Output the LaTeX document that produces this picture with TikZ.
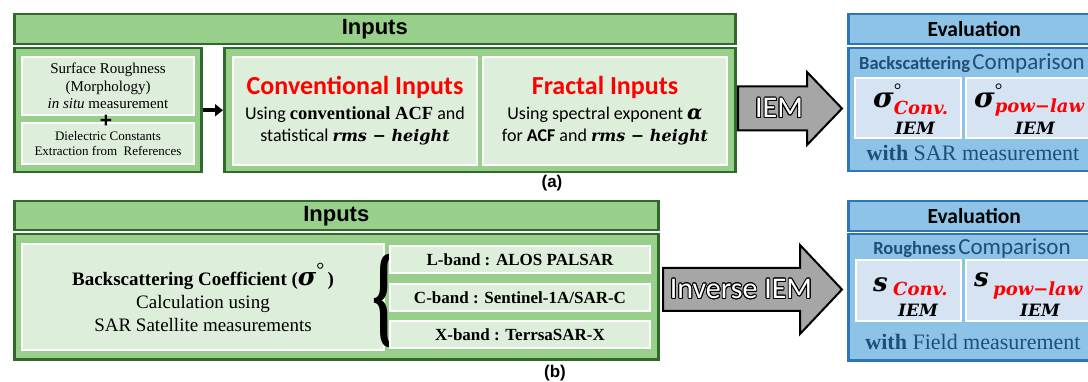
\documentclass[tikz,border=0pt]{standalone}
\usepackage{fontspec}
\setmainfont{Liberation Serif}
\newfontfamily\calibri{Carlito}
\newfontfamily\arial{Liberation Sans}
\newfontfamily\cambria{DejaVu Serif}
\usepackage{contour}
\usetikzlibrary{calc, arrows.meta}

\definecolor{grnfill}{HTML}{98D08B}
\definecolor{grnline}{HTML}{2F6A2C}
\definecolor{grnpale}{HTML}{DDEEDA}
\definecolor{blufill}{HTML}{8DC3E6}
\definecolor{bluline}{HTML}{2E75B6}
\definecolor{blupale}{HTML}{D6E3F2}
\definecolor{blutext}{HTML}{1F4E79}
\definecolor{arrgray}{HTML}{A6A6A6}

\contourlength{0.9pt}

% panel: style, name, x1, y1, x2, y2 (pixels, y down), text
\newcommand{\panel}[7]{\node[#1, minimum width={(#5-#3)*1pt}, minimum height={(#6-#4)*1pt}] (#2) at (#3,#4) {#7};}
% bold italic "math" look
\newcommand{\bi}[2]{{\cambria\bfseries\itshape\fontsize{#1}{#1}\selectfont #2}}
% sigma with degree mark and a lowered subscript
\newcommand{\sigsub}[2]{\bi{28}{σ}\rlap{\raisebox{11pt}{\fontsize{19}{19}\selectfont°}}\raisebox{-#1pt}{\textcolor{red}{\bi{18}{#2}}}}

\begin{document}
\begin{tikzpicture}[x=1pt, y=-1pt,
    box/.style={anchor=north west, inner sep=0pt, align=center},
    grnhead/.style={box, draw=grnline, fill=grnfill, line width=2.5pt, font=\arial\bfseries\fontsize{22}{22}\selectfont},
    grnpane/.style={box, draw=white, fill=grnpale, line width=2pt},
    bluhead/.style={box, draw=bluline, fill=blufill, line width=2.5pt, font=\calibri\bfseries\fontsize{21.5}{21.5}\selectfont},
    blupane/.style={box, draw=white, fill=blupale, line width=2pt},
    bigarrow/.style={draw=black, fill=arrgray, line width=2pt, line join=miter},
    arrlabel/.style={font=\calibri\fontsize{30}{30}\selectfont, text=white},
    bandtext/.style={font=\bfseries\fontsize{17}{17}\selectfont},
    lbl/.style={inner sep=0pt},
    symb/.style={inner sep=0pt, anchor=base west},
    caption/.style={font=\arial\bfseries\fontsize{17}{17}\selectfont}]
    \useasboundingbox (0,0) rectangle (1088,382);
    \clip (0,0) rectangle (1088,382);

    % ---------- (a) ----------
    \panel{grnhead}{inA}{13}{13}{734}{43}{Inputs}
    \panel{grnhead}{srcbox}{13}{47}{200}{171}{}
    \panel{grnpane, font=\fontsize{15}{17.5}\selectfont}{rough}{21}{56}{193}{114}{Surface Roughness\\(Morphology)\\\textit{in situ} measurement}
    \panel{grnpane, font=\fontsize{13}{14.5}\selectfont}{diel}{21}{122}{193}{163}{Dielectric Constants\\Extraction from~~References}
    \node[lbl, font=\arial\bfseries\fontsize{21}{21}\selectfont] (plus) at (106,121) {+};

    \panel{grnhead}{inbox}{223}{47}{734}{171}{}
    \panel{grnpane, font=\calibri\fontsize{18}{22}\selectfont}{conv}{232}{56}{476}{164}{%
        {\bfseries\fontsize{26}{30}\selectfont\textcolor{red}{Conventional Inputs}}\\[3pt]
        Using {\rmfamily\bfseries\fontsize{18.5}{18}\selectfont conventional ACF} and\\
        statistical \bi{16}{rms − height}}
    \panel{grnpane, font=\calibri\fontsize{18}{22}\selectfont}{frac}{482}{56}{726}{164}{%
        {\bfseries\fontsize{26}{30}\selectfont\textcolor{red}{Fractal Inputs}}\\[3pt]
        Using spectral exponent \bi{20}{α}\\
        for \textbf{ACF} and \bi{16}{rms − height}}
    \draw[line width=3.5pt, -{Triangle[length=8pt,width=12pt]}] (srcbox.east) -- (inbox.west);
    \node[caption] (capA) at (552,183) {(a)};

    % IEM arrow
    \draw[bigarrow] (738,86.5) -- (807,86.5) -- (807,72) -- (842,108.5) -- (807,145) -- (807,130.5) -- (738,130.5) -- cycle;
    \node[arrlabel] (iemA) at (779,108.5) {\contour{black}{IEM}};

    % Evaluation (a)
    \panel{bluhead}{evA}{847}{13}{1099}{43}{Evaluation}
    \panel{bluhead}{evAbody}{847}{47}{1099}{170}{}
    \node[lbl, font=\calibri, text=blutext] (cmpA) at (972,63) {{\bfseries\fontsize{18.5}{18}\selectfont Backscattering} {\fontsize{23}{23}\selectfont Comparison}};
    \panel{blupane}{sgbox1}{854}{77}{960}{137}{}
    \panel{blupane}{sgbox2}{965}{77}{1092}{137}{}
    \node[symb] (sg1) at (873,108) {\sigsub{7}{Conv.}};
    \node[lbl] (sg1i) at (915,128) {\bi{17}{IEM}};
    \node[symb] (sg2) at (974,108) {\sigsub{5}{pow−law}};
    \node[lbl] (sg2i) at (1035,128) {\bi{17}{IEM}};
    \node[lbl, font=\fontsize{22}{22}\selectfont, text=blutext] (withA) at (973,153) {\textbf{with} SAR measurement};

    % ---------- (b) ----------
    \panel{grnhead}{inB}{13}{200}{657}{229}{Inputs}
    \panel{grnhead}{inBbody}{13}{233}{657}{358}{}
    \panel{grnpane, font=\fontsize{19}{23}\selectfont}{bsc}{21}{243}{383}{349}{%
        {\bfseries Backscattering Coefficient (}\bi{25}{σ}\raisebox{9pt}{\fontsize{20}{20}\selectfont°}\,{\bfseries )}\\
        Calculation using\\
        SAR Satellite measurements}
    \node[lbl] (brace) at (383.5,301) {\resizebox*{23pt}{93pt}{\bfseries\{}};
    \panel{grnpane, bandtext}{lband}{389}{245}{649}{272}{L-band : ALOS PALSAR}
    \panel{grnpane, bandtext}{cband}{389}{283}{649}{310}{C-band : Sentinel-1A/SAR-C}
    \panel{grnpane, bandtext}{xband}{389}{320}{649}{347}{X-band : TerrsaSAR-X}
    \node[caption] (capB) at (555,373) {(b)};

    % Inverse IEM arrow
    \draw[bigarrow] (663,268) -- (800,268) -- (800,245) -- (842,289.5) -- (800,334) -- (800,311) -- (663,311) -- cycle;
    \node[arrlabel] (iemB) at (741,289.5) {\contour{black}{Inverse IEM}};

    % Evaluation (b)
    \panel{bluhead}{evB}{847}{200}{1099}{230}{Evaluation}
    \panel{bluhead}{evBbody}{847}{233}{1099}{359}{}
    \node[lbl, font=\calibri, text=blutext] (cmpB) at (972,248) {{\bfseries\fontsize{18.5}{18}\selectfont Roughness} {\fontsize{23}{23}\selectfont Comparison}};
    \panel{blupane}{sbox1}{855}{259}{960}{320}{}
    \panel{blupane}{sbox2}{965}{259}{1092}{320}{}
    \node[symb] (s1) at (873,292) {\bi{26}{s}};
    \node[symb, text=red] (s1c) at (893,296) {\bi{18}{Conv.}};
    \node[lbl] (s1i) at (918,310) {\bi{17}{IEM}};
    \node[symb] (s2) at (974,287) {\bi{26}{s}};
    \node[symb, text=red] (s2c) at (993,296) {\bi{18}{pow−law}};
    \node[lbl] (s2i) at (1040,310) {\bi{17}{IEM}};
    \node[lbl, font=\fontsize{22}{22}\selectfont, text=blutext] (withB) at (973,342) {\textbf{with} Field measurement};
\end{tikzpicture}
\end{document}
